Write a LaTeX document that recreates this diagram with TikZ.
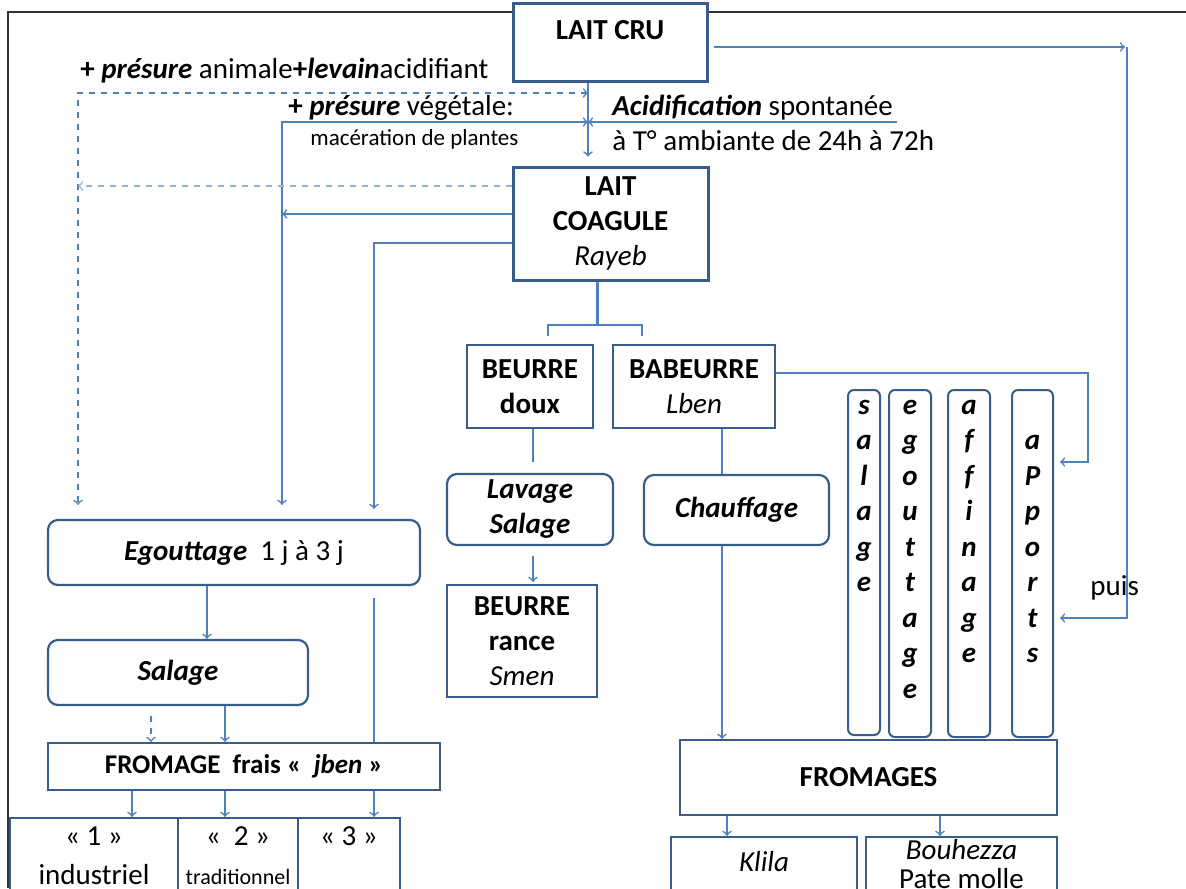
\documentclass[tikz,border=0pt]{standalone}
\usepackage{fontspec}
\setmainfont{Carlito}

\definecolor{cadre}{RGB}{56,93,138}
\definecolor{trait}{RGB}{79,129,189}
\definecolor{pale}{RGB}{149,179,215}

\begin{document}
\begin{tikzpicture}[x=0.5pt, y=-0.5pt,
  font=\fontsize{14.5}{17.5}\selectfont,
  box/.style={draw=cadre, fill=white, line width=1.1pt, align=center, inner sep=0pt,
    font=\fontsize{14.5}{17.5}\selectfont\bfseries},
  etape/.style={box, rounded corners=5pt, font=\fontsize{14.5}{17.5}\selectfont\bfseries\itshape},
  bande/.style={box, line width=1pt, rounded corners=3pt},
  lettres/.style={anchor=north, align=center, inner sep=0pt,
    font=\fontsize{14.5}{17.75}\selectfont\bfseries\itshape},
  note/.style={anchor=base west, inner sep=0pt},
  liaison/.style={draw=trait, line width=0.8pt},
  pointille/.style={liaison, dashed}]

  \clip (0,0) rectangle (1186,888);
  \draw[black!80, line width=0.9pt] (8,888) -- (8,12) -- (1186,12);

  % laits
  \node[box, line width=1.5pt, minimum width=97pt, minimum height=39pt] (laitcru) at (610,43) {LAIT CRU\\[-4pt]~};
  \node[box, line width=1.5pt, minimum width=97.5pt, minimum height=56.5pt] (coagule) at (610.5,223.5) {LAIT\\COAGULE\\\mdseries\itshape Rayeb};

  % beurres
  \node[box, minimum width=63pt, minimum height=41.5pt] (beurre) at (530,386.5) {BEURRE\\doux};
  \node[box, minimum width=81pt, minimum height=41.5pt] (babeurre) at (694,386.5) {BABEURRE\\\mdseries\itshape Lben};
  \node[etape, minimum width=83pt, minimum height=35.5pt] (lavage) at (530,509.5) {Lavage\\Salage};
  \node[box, minimum width=75pt, minimum height=56pt] (rance) at (522,641) {BEURRE\\rance\\\mdseries\itshape Smen};
  \node[etape, minimum width=92.5pt, minimum height=35pt] (chauffage) at (736.5,510) {Chauffage};

  % bandes verticales
  \node[bande, minimum width=16pt, minimum height=172.5pt,
    label={[lettres]90:\strut s\\a\\l\\a\\g\\e}] (salageV) at (864,562.5) {};
  \node[bande, minimum width=21pt, minimum height=173.5pt,
    label={[lettres]90:\strut e\\g\\o\\u\\t\\t\\a\\g\\e}] (egouttV) at (910,563.5) {};
  \node[bande, minimum width=21pt, minimum height=173.5pt,
    label={[lettres]90:\strut a\\f\\f\\i\\n\\a\\g\\e}] (affinV) at (969,563.5) {};
  \node[bande, minimum width=20.5pt, minimum height=173.5pt,
    label={[lettres]90:\strut\\a\\P\\p\\o\\r\\t\\s}] (apportsV) at (1032.5,563.5) {};

  \node[box, minimum width=188.5pt, minimum height=37.5pt] (fromages) at (868.5,777.5) {FROMAGES};
  \node[box, minimum width=93pt, minimum height=41.5pt, font=\fontsize{14.5}{17.5}\selectfont\itshape] (klila) at (764,878.5) {Klila\\~};
  \node[box, minimum width=95.5pt, minimum height=41.5pt, font=\fontsize{14.5}{14.5}\selectfont] (bouhezza) at (961.5,878.5) {\textit{Bouhezza}\\Pate molle\\~};

  % jben
  \node[etape, minimum width=186pt, minimum height=32.5pt] (egouttage) at (234,552.5) {Egouttage~~{\upshape\mdseries 1 j à 3 j}};
  \node[etape, minimum width=130pt, minimum height=32.5pt] (salage) at (178,672.5) {Salage};
  \node[box, minimum width=196pt, minimum height=23.5pt, font=\fontsize{13.5}{16}\selectfont\bfseries] (jben) at (244,766.5) {FROMAGE~~frais «~~\textit{jben} »};
  \node[box, minimum width=84pt, minimum height=37.5pt, font=\fontsize{14.5}{19.5}\selectfont] (industriel) at (94,855.5) {« 1 »\\industriel};
  \node[box, minimum width=60pt, minimum height=37.5pt, font=\fontsize{14.5}{19.5}\selectfont] (traditionnel) at (238,855.5) {«~~2 »\\{\fontsize{11}{19.5}\selectfont traditionnel}};
  \node[box, minimum width=51pt, minimum height=37.5pt, font=\fontsize{14.5}{19.5}\selectfont] (trois) at (349,855.5) {« 3 »\\~};

  % textes
  \node[note] (presanimale) at (80,79) {\textbf{+ \textit{présure}} animale\textbf{+\textit{levain}}acidifiant};
  \node[note] (presvegetale) at (288,115) {\textbf{+ \textit{présure}} végétale:};
  \node[note, font=\fontsize{11.5}{13}\selectfont] (maceration) at (310,145) {macération de plantes};
  \node[note] (acidif) at (612,115) {\textbf{\textit{Acidification}} spontanée};
  \node[note] (ambiante) at (612,150) {à T° ambiante de 24h à 72h};
  \node[note] (puis) at (1090,595) {puis};

  \coordinate (gauche) at (78,93);
  \coordinate (vegetale) at (282,122);
  \coordinate (centre) at (588,122);
  \coordinate (acide) at (897,122);
  \coordinate (partage) at (597,325);
  \coordinate (coude) at (1088,462);
  \coordinate (droite) at (1127,47);

  % liaisons
  \draw[liaison, ->, shorten >=4.5pt] (laitcru.south -| centre) -- (coagule.north -| centre);
  \draw[pointille, <->, shorten >=7pt] (centre |- gauche) -| (egouttage.north -| gauche);
  \draw[liaison, <->, shorten >=7pt] (centre) -| (egouttage.north -| vegetale);
  \draw[liaison, ->] (acide) -- (centre);
  \draw[pointille, draw=pale, ->] (coagule.west |- 0,186) -- (gauche |- 0,186);
  \draw[liaison, ->] (coagule.west |- 0,214) -- (vegetale |- 0,214);
  \draw[liaison, ->, shorten >=5pt] (coagule.west |- 0,243) -| (egouttage.north -| 374,0);
  \draw[liaison, line width=1.5pt] (coagule.south -| partage) -- (partage);
  \draw[liaison, shorten <=4pt, shorten >=4pt] (beurre.north -| 548,0) |- (partage) -| (babeurre.north -| 642,0);
  \draw[liaison, shorten >=5.5pt] (beurre.south -| 533,0) -- (lavage.north -| 533,0);
  \draw[liaison, ->, shorten <=5pt, shorten >=1pt] (lavage.south -| 533,0) -- (rance.north -| 533,0);
  \draw[liaison] (babeurre.south -| 722,0) -- (chauffage.north -| 722,0);
  \draw[liaison, ->] (chauffage.south -| 722,0) -- (fromages.north -| 722,0);
  \draw[liaison, ->, shorten >=3pt] (babeurre.east |- 0,373) -| (coude) -- (apportsV.east |- coude);
  \draw[liaison, ->, shorten <=2.5pt, shorten >=1pt] (laitcru.east |- droite) -- (droite);
  \draw[liaison, ->, shorten >=3pt] (droite) |- (apportsV.east |- 0,618);
  \draw[liaison, ->] (fromages.south -| 727,0) -- (klila.north -| 727,0);
  \draw[liaison, ->] (fromages.south -| 940,0) -- (bouhezza.north -| 940,0);
  \draw[liaison, ->] (egouttage.south -| 207,0) -- (salage.north -| 207,0);
  \draw[liaison, shorten <=6pt] (egouttage.south -| 374,0) -- (jben.north -| 374,0);
  \draw[pointille, ->, shorten <=5pt] (salage.south -| 151,0) -- (jben.north -| 151,0);
  \draw[liaison, ->] (salage.south -| 225,0) -- (jben.north -| 225,0);
  \draw[liaison, ->] (jben.south -| 132,0) -- (industriel.north -| 132,0);
  \draw[liaison, ->] (jben.south -| 225,0) -- (traditionnel.north -| 225,0);
  \draw[liaison, ->] (jben.south -| 374,0) -- (trois.north -| 374,0);
\end{tikzpicture}
\end{document}
